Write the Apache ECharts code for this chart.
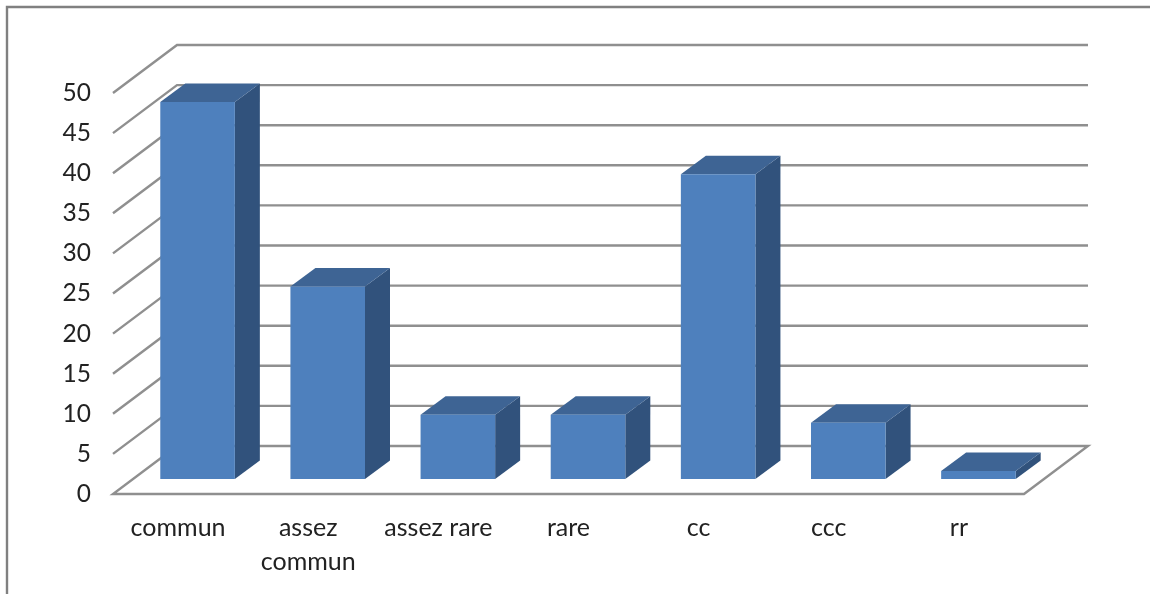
<!DOCTYPE html>
<html>
<head>
<meta charset="utf-8">
<title>Répartition par fréquence</title>
<style>
  html, body { margin: 0; padding: 0; background: #ffffff; }
  #chart { width: 1150px; height: 594px; }
</style>
<script src="https://cdn.jsdelivr.net/npm/echarts@6/dist/echarts.min.js"></script>
</head>
<body>
<div id="chart"></div>
<script>
// Frequency classes and their counts
const categories = ['commun', 'assez\ncommun', 'assez rare', 'rare', 'cc', 'ccc', 'rr'];
const counts = [47, 24, 8, 8, 38, 7, 1];
const valueTicks = [0, 5, 10, 15, 20, 25, 30, 35, 40, 45, 50];

// Oblique projection used for the box-like look
const WALL_DX = 64, WALL_DY = 48;      // depth of the floor and back wall
const BAR_SHIFT_DX = 19.5, BAR_SHIFT_DY = 15; // how far bars sit from the front edge
const BAR_DX = 25, BAR_DY = 18.5;      // depth of each bar
const BAR_RATIO = 0.573;               // bar width relative to its category band

const LINE_COLOR = '#8f8f8f';
const FRONT = '#4e80bd', TOP = '#3e6494', SIDE = '#31527c';
const FONT = 'Lato, "Open Sans", sans-serif';

function renderWallLine(params, api) {
  const rect = params.coordSys;
  const v = api.value(1);
  const y = api.coord([api.value(0), v])[1];
  const x0 = rect.x, x1 = rect.x + rect.width;
  const points = v === 0
    // the floor: side edge, front edge, far side edge, back edge
    ? [[x0 + WALL_DX, y - WALL_DY], [x0, y], [x1, y], [x1 + WALL_DX, y - WALL_DY], [x0 + WALL_DX, y - WALL_DY]]
    : [[x0, y], [x0 + WALL_DX, y - WALL_DY], [x1 + WALL_DX, y - WALL_DY]];
  return {
    type: 'polyline',
    shape: { points },
    style: { stroke: LINE_COLOR, lineWidth: 2.4, fill: null }
  };
}

function renderBar(params, api) {
  const top = api.coord([api.value(0), api.value(1)]);
  const base = api.coord([api.value(0), 0]);
  const w = api.size([1, 0])[0] * BAR_RATIO;
  const l = top[0] + BAR_SHIFT_DX - w / 2;
  const r = l + w;
  const t = top[1] - BAR_SHIFT_DY;
  const b = base[1] - BAR_SHIFT_DY;
  const poly = (points, fill) => ({ type: 'polygon', shape: { points }, style: { fill } });
  return {
    type: 'group',
    children: [
      poly([[r, t], [r + BAR_DX, t - BAR_DY], [r + BAR_DX, b - BAR_DY], [r, b]], SIDE),
      poly([[l, t], [l + BAR_DX, t - BAR_DY], [r + BAR_DX, t - BAR_DY], [r, t]], TOP),
      poly([[l, t], [r, t], [r, b], [l, b]], FRONT)
    ]
  };
}

const chart = echarts.init(document.getElementById('chart'), null, { renderer: 'canvas' });
chart.setOption({
  animation: false,
  backgroundColor: '#ffffff',
  grid: { left: 113, right: 126, top: 93, bottom: 100, containLabel: false },
  xAxis: {
    type: 'category',
    data: categories,
    axisLine: { show: false },
    axisTick: { show: false },
    splitLine: { show: false },
    axisLabel: { interval: 0, margin: 17, color: '#222222', fontFamily: FONT, fontSize: 25, lineHeight: 34 }
  },
  yAxis: {
    type: 'value',
    min: 0,
    max: 50,
    interval: 5,
    axisLine: { show: false },
    axisTick: { show: false },
    splitLine: { show: false },
    axisLabel: { margin: 22, color: '#222222', fontFamily: FONT, fontSize: 24.5, padding: [2, 0, 0, 0] }
  },
  // Outer chart frame; its right and bottom edges run off the page
  graphic: [{
    type: 'rect',
    silent: true,
    z: -1,
    shape: { x: 7, y: 7, width: 1300, height: 800 },
    style: { fill: null, stroke: '#808080', lineWidth: 2.4 }
  }],
  series: [
    {
      type: 'custom',
      name: 'walls',
      silent: true,
      z: 1,
      renderItem: renderWallLine,
      data: valueTicks.map(v => [categories[0], v])
    },
    {
      type: 'custom',
      name: 'counts',
      silent: true,
      z: 2,
      renderItem: renderBar,
      data: counts.map((v, i) => [categories[i], v])
    }
  ]
});
</script>
</body>
</html>
